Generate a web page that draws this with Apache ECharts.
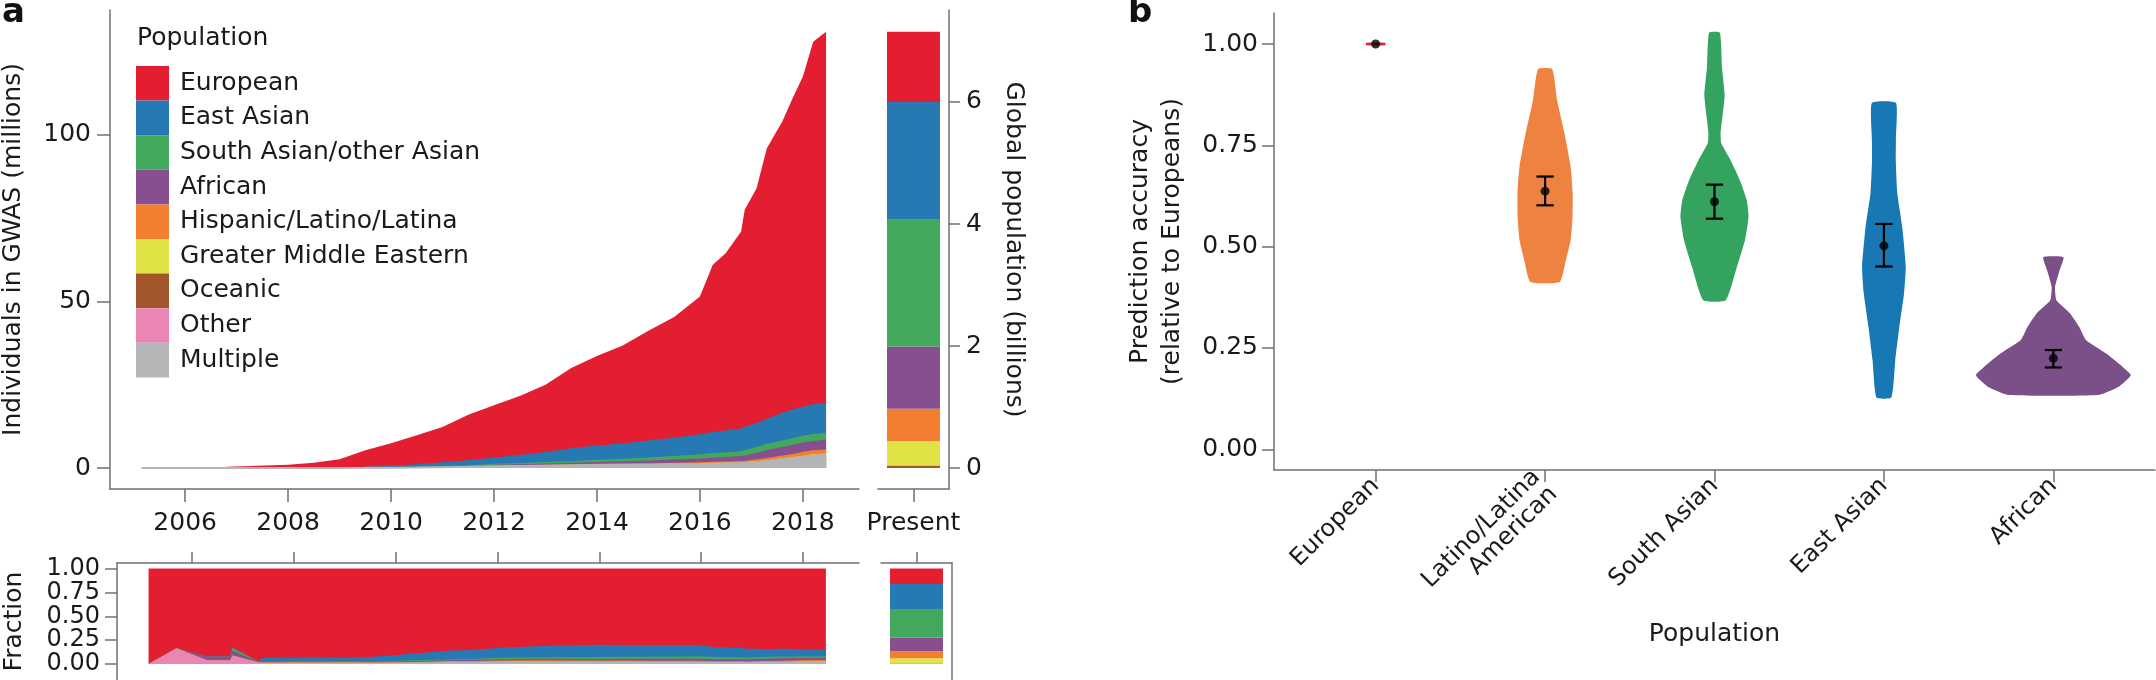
<!DOCTYPE html>
<html><head><meta charset="utf-8">
<script src="https://cdn.jsdelivr.net/npm/echarts@6/dist/echarts.min.js"></script>
<style>html,body{margin:0;padding:0;background:#fff}#c{width:2156px;height:680px}</style>
</head><body><div id="c"></div><script>
const FONT = 'DejaVu Sans';
const TXT = '#1a1a1a';
const AX = '#707070';

// ---- Panel a: individuals in GWAS (millions), by release date ----
const years = [2005.15, 2005.7, 2006.3, 2006.75, 2006.8, 2007.3, 2007.4, 2008.0, 2008.5, 2009.0, 2009.5, 2010.0, 2010.5, 2011.0, 2011.5, 2012.0, 2012.5, 2013.0, 2013.5, 2014.0, 2014.5, 2015.0, 2015.5, 2016.0, 2016.25, 2016.5, 2016.8, 2016.87, 2017.1, 2017.3, 2017.6, 2017.8, 2018.0, 2018.2, 2018.45];
const european = [0.002, 0.025, 0.092, 0.138, 0.332, 0.582, 0.654, 0.934, 1.494, 2.425, 4.905, 6.7, 8.66, 10.6, 13.64, 15.66, 17.7, 20.18, 24.06, 26.82, 29.42, 32.94, 36.19, 41.35, 50.22, 53.28, 59.13, 65.12, 70.5, 81.2, 87.42, 93.46, 99.12, 108.89, 111.42];
const eastAsian = [0, 0, 0, 0, 0, 0, 0.03, 0.035, 0.06, 0.1, 0.25, 0.45, 0.75, 1.1, 1.5, 1.9, 2.4, 3.0, 3.8, 4.3, 4.6, 5.1, 5.5, 6.0, 6.3, 6.5, 6.8, 7.0, 7.2, 7.5, 8.3, 8.6, 8.7, 8.9, 9.0];
const southAsian = [0, 0, 0, 0, 0.012, 0.002, 0.002, 0.003, 0.005, 0.01, 0.02, 0.05, 0.08, 0.12, 0.18, 0.3, 0.35, 0.45, 0.55, 0.65, 0.75, 0.9, 1.05, 1.3, 1.4, 1.45, 1.5, 1.6, 1.8, 1.9, 1.95, 2.0, 2.05, 2.1, 2.1];
const african = [0, 0, 0.004, 0.006, 0.02, 0.004, 0.003, 0.005, 0.01, 0.015, 0.03, 0.05, 0.08, 0.12, 0.18, 0.25, 0.3, 0.38, 0.45, 0.55, 0.65, 0.8, 0.95, 1.1, 1.2, 1.3, 1.5, 1.6, 1.9, 2.4, 2.6, 2.7, 2.75, 2.8, 2.9];
const hispanic = [0, 0, 0, 0, 0, 0, 0, 0.01, 0.01, 0.01, 0.02, 0.03, 0.05, 0.07, 0.09, 0.12, 0.15, 0.17, 0.2, 0.22, 0.25, 0.27, 0.3, 0.32, 0.35, 0.37, 0.4, 0.4, 0.6, 0.7, 0.8, 0.9, 1.2, 1.2, 1.25];
const middleEastern = [0, 0, 0, 0, 0, 0, 0, 0, 0, 0.002, 0.005, 0.005, 0.01, 0.01, 0.015, 0.02, 0.03, 0.04, 0.05, 0.06, 0.07, 0.08, 0.09, 0.1, 0.1, 0.11, 0.12, 0.12, 0.13, 0.13, 0.15, 0.15, 0.17, 0.18, 0.2];
const oceanic = [0, 0, 0, 0, 0, 0, 0, 0, 0, 0, 0, 0, 0.002, 0.003, 0.004, 0.005, 0.006, 0.007, 0.008, 0.01, 0.01, 0.012, 0.012, 0.015, 0.015, 0.015, 0.02, 0.02, 0.02, 0.02, 0.02, 0.02, 0.03, 0.03, 0.03];
const other = [0, 0.005, 0.004, 0.006, 0.036, 0.006, 0.004, 0.003, 0.005, 0.008, 0.01, 0.015, 0.02, 0.03, 0.04, 0.05, 0.06, 0.07, 0.08, 0.09, 0.1, 0.1, 0.11, 0.12, 0.12, 0.13, 0.13, 0.14, 0.15, 0.15, 0.16, 0.17, 0.18, 0.2, 0.2];
const multiple = [0, 0, 0, 0, 0, 0.006, 0.007, 0.01, 0.016, 0.03, 0.06, 0.1, 0.15, 0.25, 0.35, 0.5, 0.6, 0.7, 0.8, 0.9, 0.95, 1.0, 1.1, 1.2, 1.3, 1.35, 1.4, 1.5, 1.7, 2.0, 2.6, 3.0, 3.3, 3.7, 3.9];

const groupNames = ['European', 'East Asian', 'South Asian/other Asian', 'African', 'Hispanic/Latino/Latina', 'Greater Middle Eastern', 'Oceanic', 'Other', 'Multiple'];
const groupColors = ['#e41e31', '#2679b2', '#42a85b', '#874f8f', '#f27f30', '#e0e345', '#a1572b', '#ea86b3', '#b4b5b6'];
const gwasData = [european, eastAsian, southAsian, african, hispanic, middleEastern, oceanic, other, multiple];
const yearTicks = [2006, 2008, 2010, 2012, 2014, 2016, 2018];
const gwasTicks = [0, 50, 100];
const fractionTicks = [0, 0.25, 0.5, 0.75, 1];

// ---- Present global population (billions) ----
const presentGroups = ['European', 'East Asian', 'South Asian/other Asian', 'African', 'Hispanic/Latino/Latina', 'Greater Middle Eastern', 'Oceanic'];
const presentBillions = [1.15, 1.93, 2.08, 1.02, 0.53, 0.40, 0.04];
const popTicks = [0, 2, 4, 6];

// ---- Panel b: prediction accuracy relative to Europeans ----
const accCats = ['European', 'Latino/Latina\nAmerican', 'South Asian', 'East Asian', 'African'];
const accColors = ['#e41e31', '#ee8240', '#33a35f', '#1778b3', '#7b5089'];
const accMean = [1.0, 0.637, 0.611, 0.502, 0.2245];
const accLow = [1.0, 0.602, 0.569, 0.451, 0.202];
const accHigh = [1.0, 0.673, 0.653, 0.556, 0.245];
const accTicks = [0, 0.25, 0.5, 0.75, 1];
// violin outlines: accuracy values and half-widths (category units)
const europeanV = [0.997, 1.003];
const europeanW = [0.057, 0.057];
const latinoV = [0.413, 0.467, 0.516, 0.574, 0.632, 0.697, 0.779, 0.862, 0.938];
const latinoW = [0.087, 0.123, 0.151, 0.162, 0.163, 0.151, 0.115, 0.071, 0.042];
const southAsianV = [0.368, 0.451, 0.516, 0.574, 0.615, 0.664, 0.714, 0.755, 0.780, 0.821, 0.874, 0.944, 1.028];
const southAsianW = [0.067, 0.133, 0.180, 0.201, 0.190, 0.150, 0.094, 0.040, 0.036, 0.047, 0.060, 0.044, 0.032];
const eastAsianV = [0.128, 0.220, 0.302, 0.385, 0.451, 0.549, 0.632, 0.714, 0.766, 0.855];
const eastAsianW = [0.044, 0.067, 0.091, 0.119, 0.129, 0.108, 0.079, 0.070, 0.071, 0.071];
const africanV = [0.134, 0.154, 0.183, 0.204, 0.237, 0.270, 0.302, 0.336, 0.368, 0.401, 0.442, 0.474];
const africanW = [0.263, 0.384, 0.457, 0.408, 0.310, 0.192, 0.153, 0.098, 0.018, 0.010, 0.037, 0.060];
const violinV = [europeanV, latinoV, southAsianV, eastAsianV, africanV];
const violinW = [europeanW, latinoW, southAsianW, eastAsianW, africanW];

// ---------- build ----------
const mkLine = () => ({ show: true, onZero: false, lineStyle: { color: AX, width: 1.5 } });
const mkTick = (len, vals, extra) => Object.assign({ show: true, inside: false, length: len, lineStyle: { color: AX, width: 1.5 } }, vals ? { customValues: vals } : {}, extra || {});
const lbl = (extra) => Object.assign({ color: TXT, fontFamily: FONT, fontSize: 25, showMinLabel: true, showMaxLabel: true }, extra);

const totals = years.map((_, i) => gwasData.reduce((s, arr) => s + arr[i], 0));
// cumulative top of each group (groups later in the list sit below)
const cumTop = gwasData.map((arr, g) => years.map((_, i) => {
  let s = 0; for (let h = g; h < gwasData.length; h++) s += gwasData[h][i]; return s;
}));
const presentTotal = presentBillions.reduce((s, v) => s + v, 0);

const series = [];
for (let g = 0; g < groupNames.length; g++) {
  series.push({
    name: groupNames[g], type: 'line', xAxisIndex: 0, yAxisIndex: 0,
    symbol: 'none', smooth: false,
    lineStyle: { width: groupNames[g] === 'Multiple' ? 2 : 0, color: groupColors[g] },
    itemStyle: { color: groupColors[g] },
    areaStyle: { color: groupColors[g], opacity: 1 },
    data: years.map((y, i) => [y, cumTop[g][i]])
  });
}
for (let g = 0; g < groupNames.length; g++) {
  series.push({
    name: groupNames[g], type: 'line', xAxisIndex: 2, yAxisIndex: 2,
    symbol: 'none', lineStyle: { width: 0, color: groupColors[g] },
    itemStyle: { color: groupColors[g] },
    areaStyle: { color: groupColors[g], opacity: 1 },
    data: years.map((y, i) => [y, cumTop[g][i] / totals[i]])
  });
}
for (let g = presentGroups.length - 1; g >= 0; g--) {
  const col = groupColors[groupNames.indexOf(presentGroups[g])];
  series.push({
    name: presentGroups[g], type: 'bar', xAxisIndex: 1, yAxisIndex: 1, stack: 'present',
    barWidth: 53, itemStyle: { color: col }, data: [presentBillions[g]]
  });
  series.push({
    name: presentGroups[g], type: 'bar', xAxisIndex: 3, yAxisIndex: 3, stack: 'presentFrac',
    barWidth: 53, itemStyle: { color: col }, data: [presentBillions[g] / presentTotal]
  });
}
series.push({
  type: 'custom', xAxisIndex: 4, yAxisIndex: 4,
  data: accCats.map((c, i) => [i, accMean[i]]),
  encode: { x: 0, y: 1 },
  renderItem: function (params, api) {
    const i = params.dataIndex, vs = violinV[i], ws = violinW[i];
    const pts = [];
    for (let k = 0; k < vs.length; k++) pts.push(api.coord([i + ws[k], vs[k]]));
    for (let k = vs.length - 1; k >= 0; k--) pts.push(api.coord([i - ws[k], vs[k]]));
    return { type: 'polygon', shape: { points: pts, smooth: 0.15 }, style: { fill: accColors[i] } };
  }
});
series.push({
  type: 'custom', xAxisIndex: 4, yAxisIndex: 4,
  data: accCats.map((c, i) => [i, accLow[i], accHigh[i]]),
  encode: { x: 0, y: [1, 2] },
  renderItem: function (params, api) {
    const i = params.dataIndex;
    if (accLow[i] === accHigh[i]) return { type: 'group', children: [] };
    const lo = api.coord([i, accLow[i]]), hi = api.coord([i, accHigh[i]]);
    const capL = api.coord([i - 0.051, accLow[i]]), capR = api.coord([i + 0.051, accLow[i]]);
    const capL2 = api.coord([i - 0.051, accHigh[i]]), capR2 = api.coord([i + 0.051, accHigh[i]]);
    const st = { stroke: '#000', lineWidth: 2.2 };
    return { type: 'group', children: [
      { type: 'line', shape: { x1: lo[0], y1: lo[1], x2: hi[0], y2: hi[1] }, style: st },
      { type: 'line', shape: { x1: capL[0], y1: capL[1], x2: capR[0], y2: capR[1] }, style: st },
      { type: 'line', shape: { x1: capL2[0], y1: capL2[1], x2: capR2[0], y2: capR2[1] }, style: st }
    ] };
  }
});
series.push({
  type: 'scatter', xAxisIndex: 4, yAxisIndex: 4, symbolSize: 9,
  itemStyle: { color: '#000' }, data: accCats.map((c, i) => [i, accMean[i]])
});

const option = {
  animation: false,
  textStyle: { fontFamily: FONT },
  title: [
    { text: 'a', left: 2, top: -4, padding: 0, textStyle: { fontSize: 34, fontWeight: 'bold', color: '#111', fontFamily: FONT } },
    { text: 'b', left: 1128, top: -4, padding: 0, textStyle: { fontSize: 34, fontWeight: 'bold', color: '#111', fontFamily: FONT } },
    { text: 'Population', left: 137, top: 26, padding: 0, textStyle: { fontSize: 25, fontWeight: 'normal', color: TXT, fontFamily: FONT } }
  ],
  legend: {
    orient: 'vertical', left: 136, top: 66, padding: 0, itemWidth: 33, itemHeight: 34.6, itemGap: 0,
    icon: 'rect', data: groupNames, selectedMode: false,
    textStyle: { fontSize: 25, color: TXT, fontFamily: FONT, padding: [0, 0, 0, 6] }
  },
  grid: [
    { left: 110, top: 10, width: 749, height: 479 },
    { left: 878, top: 10, width: 71, height: 479 },
    { left: 117, top: 563, width: 742, height: 125 },
    { left: 881, top: 563, width: 71, height: 125 },
    { left: 1274, top: 13, width: 881, height: 457 }
  ],
  xAxis: [
    { gridIndex: 0, type: 'value', position: 'bottom', min: 2004.54, max: 2019.09, splitLine: { show: false },
      axisLine: mkLine(), axisTick: mkTick(13, yearTicks),
      axisLabel: lbl({ customValues: yearTicks, margin: 22, formatter: v => String(v) }) },
    { gridIndex: 1, type: 'category', position: 'bottom', data: ['Present'], axisLine: mkLine(),
      axisTick: mkTick(13, null, { alignWithLabel: true }),
      axisLabel: lbl({ margin: 22 }) },
    { gridIndex: 2, type: 'value', position: 'top', min: 2004.53, max: 2019.10, splitLine: { show: false }, axisLine: mkLine(),
      axisTick: mkTick(11, yearTicks),
      axisLabel: { show: false } },
    { gridIndex: 3, type: 'category', position: 'top', data: ['Present'], axisLine: mkLine(),
      axisTick: mkTick(11, null, { alignWithLabel: true }),
      axisLabel: { show: false } },
    { gridIndex: 4, type: 'value', min: -0.6, max: 4.6, splitLine: { show: false }, axisLine: mkLine(),
      axisTick: mkTick(12, [0, 1, 2, 3, 4]),
      axisLabel: lbl({ customValues: [0, 1, 2, 3, 4], fontSize: 24, rotate: 45, margin: 12,
        formatter: v => accCats[Math.round(v)] }),
      name: 'Population', nameLocation: 'middle', nameGap: 152,
      nameTextStyle: { fontSize: 25, color: TXT, fontFamily: FONT } }
  ],
  yAxis: [
    { gridIndex: 0, type: 'value', min: -6.3, max: 137.5, splitLine: { show: false }, axisLine: mkLine(),
      axisTick: mkTick(13, gwasTicks),
      axisLabel: lbl({ customValues: gwasTicks, margin: 19 }),
      name: 'Individuals in GWAS (millions)', nameLocation: 'middle', nameGap: 84,
      nameTextStyle: { fontSize: 25, color: TXT, fontFamily: FONT } },
    { gridIndex: 1, type: 'value', position: 'right', min: -0.344, max: 7.508, splitLine: { show: false }, axisLine: mkLine(),
      axisTick: mkTick(11, popTicks),
      axisLabel: lbl({ customValues: popTicks, margin: 17 }),
      name: 'Global population (billions)', nameLocation: 'middle', nameRotate: -90, nameGap: 52,
      nameTextStyle: { fontSize: 25, color: TXT, fontFamily: FONT } },
    { gridIndex: 2, type: 'value', min: -0.1667, max: 1.0588, splitLine: { show: false }, axisLine: mkLine(),
      axisTick: mkTick(12, fractionTicks),
      axisLabel: lbl({ customValues: fractionTicks, margin: 17, fontSize: 24, formatter: v => v.toFixed(2) }),
      name: 'Fraction', nameLocation: 'middle', nameGap: 90,
      nameTextStyle: { fontSize: 25, color: TXT, fontFamily: FONT } },
    { gridIndex: 3, type: 'value', position: 'right', min: -0.1667, max: 1.0588, splitLine: { show: false }, axisLine: mkLine(),
      axisTick: { show: false }, axisLabel: { show: false } },
    { gridIndex: 4, type: 'value', min: -0.051, max: 1.0765, splitLine: { show: false }, axisLine: mkLine(),
      axisTick: mkTick(12, accTicks),
      axisLabel: lbl({ customValues: accTicks, fontSize: 25, margin: 16, formatter: v => v.toFixed(2) }),
      name: 'Prediction accuracy\n(relative to Europeans)', nameLocation: 'middle', nameGap: 86,
      nameTextStyle: { fontSize: 25, lineHeight: 32, color: TXT, fontFamily: FONT } }
  ],
  series: series
};
const chart = echarts.init(document.getElementById('c'), null, { renderer: 'canvas' });
chart.setOption(option);
</script></body></html>
